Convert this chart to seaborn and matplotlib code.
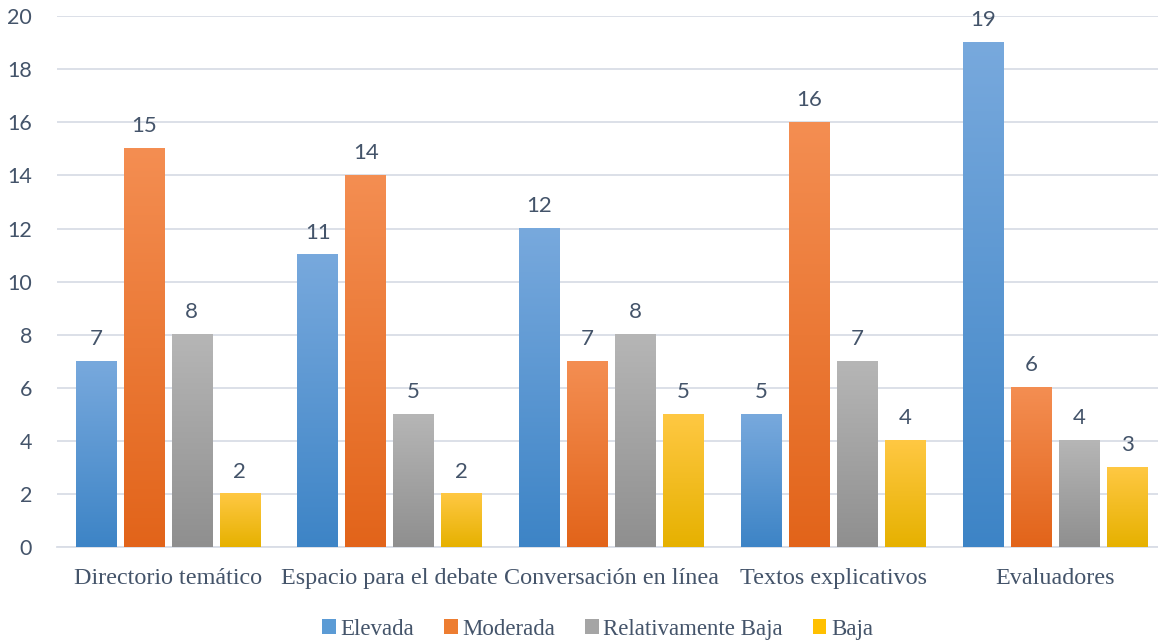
import numpy as np
import pandas as pd
import matplotlib
matplotlib.use("Agg")
import matplotlib.pyplot as plt
from matplotlib.colors import LinearSegmentedColormap
from matplotlib.patches import Patch
from matplotlib.font_manager import FontProperties
import seaborn as sns

categories = ["Directorio temático", "Espacio para el debate", "Conversación en línea",
              "Textos explicativos", "Evaluadores"]
series = ["Elevada", "Moderada", "Relativamente Baja", "Baja"]
elevada = [7, 11, 12, 5, 19]
moderada = [15, 14, 7, 16, 6]
relativamente_baja = [8, 5, 8, 7, 4]
baja = [2, 2, 5, 4, 3]
y_ticks = [0, 2, 4, 6, 8, 10, 12, 14, 16, 18, 20]

# gradient end colours per series (bottom, top) and flat legend colour
grad = {
    "Elevada": ("#3d84c6", "#78a9dd"),
    "Moderada": ("#e2641a", "#f48e52"),
    "Relativamente Baja": ("#8f8f8f", "#b6b6b6"),
    "Baja": ("#e6b100", "#ffc843"),
}
legend_colors = {"Elevada": "#5b9bd5", "Moderada": "#ed7d31",
                 "Relativamente Baja": "#a5a5a5", "Baja": "#ffc000"}
text_color = "#44546a"
grid_color = "#d9dde6"

df = pd.DataFrame({
    "categoria": categories * 4,
    "serie": sum([[s] * len(categories) for s in series], []),
    "valor": elevada + moderada + relativamente_baja + baja,
})

sns.set_theme(style="white")
plt.rcParams["font.family"] = ["Lato", "DejaVu Sans"]

fig = plt.figure(figsize=(11.58, 6.43), dpi=100)
ax = fig.add_axes([0.0492, 0.149, 0.9508, 0.826])

palette = {s: grad[s][1] for s in series}
sns.barplot(data=df, x="categoria", y="valor", hue="serie", order=categories,
            hue_order=series, palette=palette, width=0.865, gap=0.155,
            ax=ax, legend=False, zorder=3)

# vertical gradient fill for every bar
grad_data = np.linspace(0, 1, 256).reshape(-1, 1)
for s, cont in zip(series, ax.containers):
    cmap = LinearSegmentedColormap.from_list(s, [grad[s][0], grad[s][1]])
    for bar in cont:
        x0, w, h = bar.get_x(), bar.get_width(), bar.get_height()
        ax.imshow(grad_data, cmap=cmap, origin="lower", aspect="auto",
                  extent=[x0, x0 + w, 0, h], zorder=3)
        bar.set_facecolor("none")
        bar.set_edgecolor("none")
    ax.bar_label(cont, labels=[f"{int(v)}" for v in cont.datavalues], padding=9,
                 fontsize=16, color=text_color, family=["Lato", "DejaVu Sans"])

ax.set_xlim(-0.5, 4.464)
ax.set_ylim(0, 20)
ax.set_yticks(y_ticks)
ax.yaxis.grid(True, color=grid_color, linewidth=1.3, zorder=0)
ax.set_axisbelow(True)
for sp in ["top", "right", "left"]:
    ax.spines[sp].set_visible(False)
ax.spines["bottom"].set_color(grid_color)
ax.spines["bottom"].set_linewidth(1.3)
ax.set_xlabel("")
ax.set_ylabel("")
ax.tick_params(axis="y", length=0, pad=18, labelsize=15.5, labelcolor=text_color)
ax.tick_params(axis="x", length=0, pad=15, labelcolor=text_color)
for lbl in ax.get_xticklabels():
    lbl.set_fontproperties(FontProperties(family="Liberation Serif", size=17.4))

serif_legend = FontProperties(family="Liberation Serif", size=16.5)
handles = [Patch(facecolor=legend_colors[s], edgecolor="none") for s in series]
leg = ax.legend(handles, series, loc="lower center", bbox_to_anchor=(0.491, -0.213),
                ncol=4, frameon=False, handlelength=0.6, handleheight=0.6,
                handletextpad=0.2, columnspacing=1.3, prop=serif_legend)
for t in leg.get_texts():
    t.set_color(text_color)

fig.savefig("out.png", dpi=100)
